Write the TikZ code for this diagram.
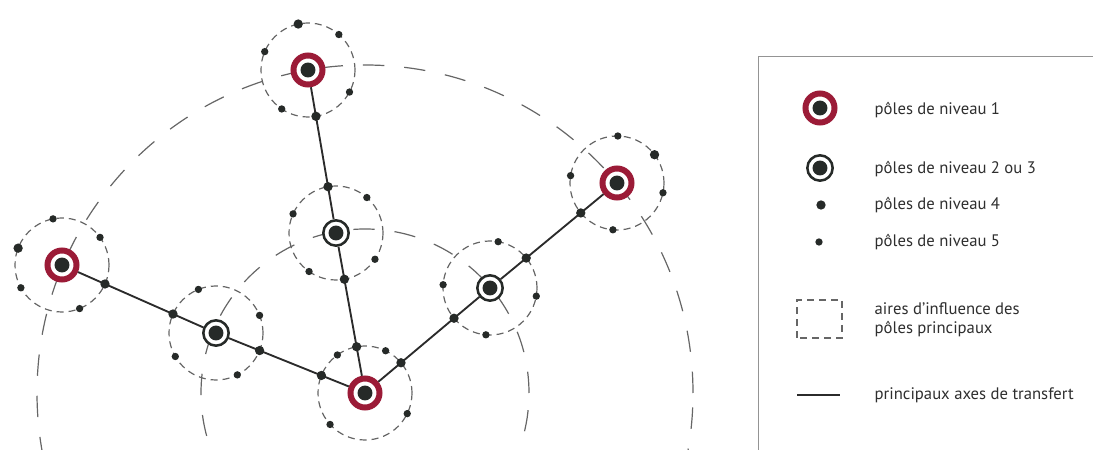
\documentclass[tikz,border=0pt]{standalone}
\usepackage{fontspec}
\setmainfont{PT Sans}
\usetikzlibrary{calc,backgrounds}
\definecolor{cRed}{HTML}{9B1B37}
\definecolor{cDot}{HTML}{262A28}
\definecolor{cZone}{HTML}{666666}
\definecolor{cLine}{HTML}{2B2B2B}
\definecolor{cText}{HTML}{2E2E2E}
\newcommand{\zr}{35.25pt}

\begin{document}
\begin{tikzpicture}[
  x=0.75pt,y=0.75pt,
  pole1/.style={circle,draw=cRed,line width=4.5pt,fill=white,minimum size=21.75pt,inner sep=0pt,
    path picture={\fill[cDot] (path picture bounding box.center) circle (5.6pt);}},
  pole2/.style={circle,draw=cDot,line width=1.9pt,fill=white,minimum size=19pt,inner sep=0pt,
    path picture={\fill[cDot] (path picture bounding box.center) circle (5.6pt);}},
  lvlfour/.style={circle,fill=cDot,minimum size=7pt,inner sep=0pt},
  lvlfive/.style={circle,fill=cDot,minimum size=5.5pt,inner sep=0pt},
  zone/.style={draw=cZone,line width=0.9pt,dash pattern=on 5.25pt off 3.75pt},
  bigzone/.style={draw=cZone,line width=0.9pt,dash pattern=on 16pt off 15pt},
  transfert/.style={draw=cLine,line width=1.4pt},
  legtext/.style={anchor=west,font=\fontsize{12.5}{14.5}\selectfont,text=cText,align=left}]

\useasboundingbox (0,0) rectangle (1093,450);
\clip (0,0) rectangle (1093,450);

% poles de niveau 1 et 2
\node[pole1] (B) at (365,57) {};
\node[pole1] (T) at (308,380) {};
\node[pole1] (L) at (62,185) {};
\node[pole1] (R) at (617,267) {};
\node[pole2] (C) at (336,217) {};
\node[pole2] (M) at (216,117) {};
\node[pole2] (N) at (490,162) {};

% aires d'influence
\begin{scope}[on background layer]
  \clip (0,0) rectangle (1093,450);
  \draw[bigzone] (B) circle (328);
  \draw[bigzone] (B) circle (164);
  \foreach \p in {B,T,L,R,C,M,N} \draw[zone] (\p) circle (\zr);
\end{scope}

% axes de transfert
\draw[transfert] (T) -- (C) -- (B);
\draw[transfert] (L) -- (M) -- (B);
\draw[transfert] (R) -- (N) -- (B);

% poles de niveau 4 sur les axes
\foreach \a/\b in {T/C,C/T,C/B,B/C,L/M,M/L,M/B,B/M,R/N,N/R,N/B,B/N}
  \node[lvlfour] (\a-\b) at ($(\a)!\zr!(\b)$) {};

% poles de niveau 4 et 5 sur les aires
\node[lvlfour] (T-top) at ($(T)+(102:\zr)$) {};
\node[lvlfour] (L-top) at ($(L)+(159:\zr)$) {};
\node[lvlfour] (R-top) at ($(R)+(37:\zr)$) {};
\foreach \p/\angs in {T/{49,157,-28,-124},L/{101,36,-151,-68},R/{89,171,-12,-95},
    N/{80,176,-10,-95},C/{49,156,-34,-125},M/{112,22,210,-63},B/{64,126,-26,222}}
  \foreach \a in \angs
    \node[lvlfive] (\p-\a) at ($(\p)+(\a:\zr)$) {};

% legende
\draw[cZone!70,line width=0.6pt] (758,-20) rectangle (1120,394);
\node[pole1] (k1) at (820,342) {};
\node[legtext] (t1) at (870,340) {pôles de niveau 1};
\node[pole2] (k2) at (820,282) {};
\node[legtext] (t2) at (870,281) {pôles de niveau 2 ou 3};
\node[lvlfour] (k4) at (821,245) {};
\node[legtext] (t4) at (870,245) {pôles de niveau 4};
\node[lvlfive] (k5) at (819,208) {};
\node[legtext] (t5) at (870,208) {pôles de niveau 5};
\draw[cZone,line width=0.8pt,dash pattern=on 5pt off 4pt] (797,112) rectangle (842,150);
\node[legtext] (tz) at (870,130) {aires d'influence des\\pôles principaux};
\draw[transfert] (797,55) -- (840,55);
\node[legtext] (ta) at (870,55) {principaux axes de transfert};
\end{tikzpicture}
\end{document}
